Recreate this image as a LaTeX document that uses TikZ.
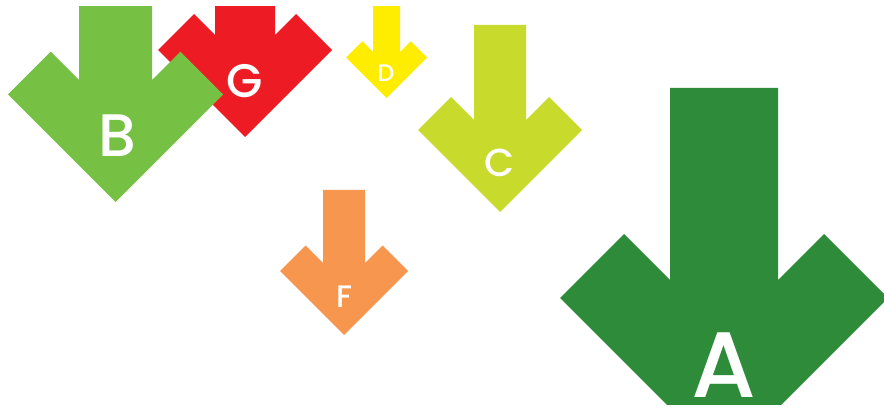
\documentclass[tikz,border=0pt]{standalone}
\usepackage{fontspec}
\setmainfont{Poppins}[BoldFont={Poppins Medium}]
\definecolor{cA}{RGB}{46,139,58}
\definecolor{cB}{RGB}{118,192,68}
\definecolor{cC}{RGB}{200,218,43}
\definecolor{cD}{RGB}{255,237,0}
\definecolor{cF}{RGB}{247,150,79}
\definecolor{cG}{RGB}{237,28,36}
% #1 colour, #2 centre x, #3 stem half width, #4 stem top, #5 inner vertex y, #6 thickness, #7 half extent
\newcommand\energyarrow[7]{%
  \pgfmathsetmacro\ea{#7-#6/2}%
  \fill[#1] ({#2-#3},#4) -- ({#2-#3},{#5-#3}) -- ({#2-\ea},{#5-\ea}) -- ({#2-#7},{#5+#6-#7})
    -- (#2,{#5+#6}) -- ({#2+#7},{#5+#6-#7}) -- ({#2+\ea},{#5-\ea}) -- ({#2+#3},{#5-#3})
    -- ({#2+#3},#4) -- cycle;}
\tikzset{lbl/.style={text=white, anchor=base, inner sep=0pt, font=\bfseries}}
\begin{document}
\begin{tikzpicture}[x=1pt,y=-1pt]
\useasboundingbox (0,0) rectangle (884,409);
\begin{scope}
\clip (0,7) rectangle (884,404);
\energyarrow{cG}{245}{30}{0}{65}{72}{87}
\energyarrow{cB}{115.5}{36.5}{0}{116.5}{85.5}{107.5}
\energyarrow{cD}{386.5}{13.5}{0}{65.5}{32.5}{40.5}
\energyarrow{cC}{500}{26}{25}{146}{66}{82}
\energyarrow{cF}{344}{21}{190}{284}{51}{64}
\energyarrow{cA}{724}{54}{88}{334}{128}{164}
\end{scope}
\node[lbl, font=\bfseries\fontsize{47}{47}\selectfont] (g) at (245,98) {G};
\node[lbl, font=\bfseries\fontsize{60}{60}\selectfont] (b) at (117,157) {B};
\node[lbl, font=\bfseries\fontsize{24}{24}\selectfont] (d) at (386,82) {D};
\node[lbl, font=\bfseries\fontsize{39}{39}\selectfont] (c) at (500,177) {C};
\node[lbl, font=\bfseries\fontsize{31}{31}\selectfont] (f) at (344,307) {F};
\node[lbl, font=\bfseries\fontsize{93}{93}\selectfont] (a) at (724,397) {A};
\end{tikzpicture}
\end{document}
